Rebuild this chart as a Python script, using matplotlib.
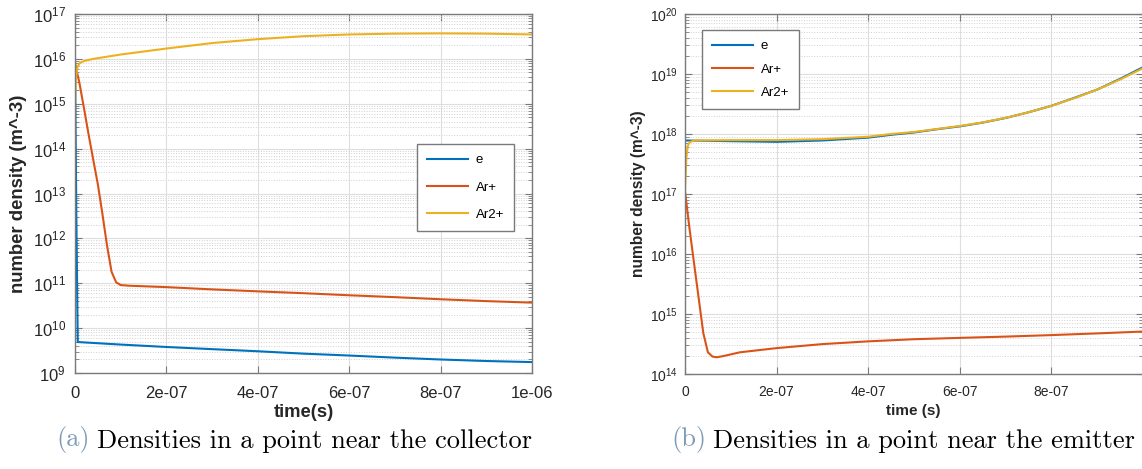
import numpy as np
import matplotlib
matplotlib.use("Agg")
import matplotlib.pyplot as plt
from matplotlib.ticker import LogLocator, NullFormatter, FixedLocator, FixedFormatter

plt.rcParams["font.family"] = ["Liberation Sans", "DejaVu Sans"]
plt.rcParams["mathtext.default"] = "regular"

# (a) point near the collector
t_e_a = [0, 3e-9, 6e-9, 1e-7, 2e-7, 3e-7, 4e-7, 5e-7, 6e-7, 7e-7, 8e-7, 9e-7, 1e-6]
n_e_a = [8.5e15, 3e12, 4.9e9, 4.3e9, 3.8e9, 3.4e9, 3.05e9, 2.7e9, 2.45e9, 2.2e9, 2.0e9, 1.85e9, 1.75e9]

t_ar_a = [0, 1e-8, 2e-8, 3e-8, 4e-8, 5e-8, 6e-8, 7e-8, 8e-8, 9e-8, 1e-7, 1.2e-7,
          2e-7, 3e-7, 4e-7, 5e-7, 6e-7, 7e-7, 8e-7, 9e-7, 1e-6]
n_ar_a = [8e15, 2.8e15, 7.6e14, 2e14, 5.6e13, 1.6e13, 3.5e12, 7e11, 1.8e11, 1.05e11, 9.1e10, 8.8e10,
          8.2e10, 7.3e10, 6.6e10, 6.0e10, 5.4e10, 4.9e10, 4.4e10, 4.0e10, 3.7e10]

t_ar2_a = [0, 2e-9, 5e-9, 1e-8, 2e-8, 4e-8, 1e-7, 2e-7, 3e-7, 4e-7, 5e-7, 6e-7, 7e-7, 8e-7, 9e-7, 1e-6]
n_ar2_a = [1.1e15, 3.5e15, 6.5e15, 8e15, 9e15, 1.0e16, 1.25e16, 1.7e16, 2.25e16, 2.75e16,
           3.2e16, 3.5e16, 3.65e16, 3.7e16, 3.65e16, 3.5e16]

# (b) point near the emitter
t_e_b = [0, 1e-7, 2e-7, 3e-7, 4e-7, 4.5e-7, 5e-7, 5.5e-7, 6e-7, 6.5e-7, 7e-7, 7.5e-7,
         8e-7, 8.5e-7, 9e-7, 9.5e-7, 1e-6]
n_e_b = [7.8e17, 7.6e17, 7.4e17, 7.8e17, 8.7e17, 9.7e17, 1.06e18, 1.2e18, 1.34e18, 1.55e18,
         1.85e18, 2.3e18, 2.95e18, 4.0e18, 5.5e18, 8.3e18, 1.3e19]

t_ar_b = [0, 1e-8, 2e-8, 3e-8, 4e-8, 5e-8, 6e-8, 7e-8, 8.5e-8, 1.2e-7, 2e-7, 3e-7,
          4e-7, 5e-7, 6e-7, 7e-7, 8e-7, 9e-7, 1e-6]
n_ar_b = [1.1e17, 2.6e16, 6.8e15, 1.8e15, 4.8e14, 2.3e14, 1.95e14, 1.9e14, 2.0e14, 2.3e14, 2.7e14, 3.15e14,
          3.5e14, 3.8e14, 4.0e14, 4.2e14, 4.45e14, 4.75e14, 5.1e14]

t_ar2_b = [0, 3e-9, 6e-9, 1e-8, 2e-8, 1e-7, 2e-7, 3e-7, 4e-7, 4.5e-7, 5e-7, 5.5e-7, 6e-7, 6.5e-7,
           7e-7, 7.5e-7, 8e-7, 8.5e-7, 9e-7, 9.5e-7, 1e-6]
n_ar2_b = [1.2e17, 4e17, 6.3e17, 7.3e17, 7.8e17, 7.9e17, 7.9e17, 8.2e17, 9.0e17, 1.0e18, 1.08e18, 1.21e18,
           1.36e18, 1.56e18, 1.86e18, 2.3e18, 2.95e18, 3.95e18, 5.5e18, 8.1e18, 1.25e19]

series_names = ["e", "Ar+", "Ar2+"]
colors = ["#0072BD", "#D95319", "#EDB120"]

xtick_vals = [0, 2e-7, 4e-7, 6e-7, 8e-7, 1e-6]
xtick_labels_a = ["0", "2e-07", "4e-07", "6e-07", "8e-07", "1e-06"]
xtick_labels_b = ["0", "2e-07", "4e-07", "6e-07", "8e-07", ""]

captions = [("(a)", "Densities in a point near the collector"),
            ("(b)", "Densities in a point near the emitter")]


def style_axes(ax, ylim, xlabels, fs, xpad, ypad):
    ax.set_yscale("log")
    ax.set_xlim(0, 1e-6)
    ax.set_ylim(*ylim)
    ax.xaxis.set_major_locator(FixedLocator(xtick_vals))
    ax.xaxis.set_major_formatter(FixedFormatter(xlabels))
    ax.yaxis.set_major_locator(LogLocator(base=10, numticks=20))
    ax.yaxis.set_minor_locator(LogLocator(base=10, subs=np.arange(2, 10), numticks=100))
    ax.yaxis.set_minor_formatter(NullFormatter())
    ax.grid(True, which="major", color="#dedede", linewidth=0.8)
    ax.grid(True, which="minor", axis="y", color="#d0d0d0", linestyle=":", linewidth=0.7)
    ax.set_axisbelow(True)
    for s in ax.spines.values():
        s.set_color("#7a7a7a")
        s.set_linewidth(1.0)
    ax.tick_params(which="both", direction="in", top=True, right=True, colors="#7a7a7a",
                   labelcolor="#262626", labelsize=fs)
    ax.tick_params(which="major", length=5)
    ax.tick_params(which="minor", length=3)
    ax.tick_params(axis="x", pad=xpad)
    ax.tick_params(axis="y", pad=ypad)


fig = plt.figure(figsize=(11.42, 4.69), dpi=100)
ax1 = fig.add_axes([75 / 1142, (469 - 373) / 469, 457 / 1142, 359 / 469])
ax2 = fig.add_axes([685 / 1142, (469 - 374) / 469, 458 / 1142, 360 / 469])

for t, n, c, lab in zip([t_e_a, t_ar_a, t_ar2_a], [n_e_a, n_ar_a, n_ar2_a], colors, series_names):
    ax1.plot(t, n, color=c, linewidth=1.5, label=lab)
for t, n, c, lab in zip([t_e_b, t_ar_b, t_ar2_b], [n_e_b, n_ar_b, n_ar2_b], colors, series_names):
    ax2.plot(t, n, color=c, linewidth=1.5, label=lab)

style_axes(ax1, (1e9, 1e17), xtick_labels_a, 12, 9.5, 6.5)
style_axes(ax2, (1e14, 1e20), xtick_labels_b, 10, 8.0, 5.0)

ax1.set_xlabel("time(s)", fontsize=13.3, fontweight="bold", color="#262626")
ax1.set_ylabel("number density (m^-3)", fontsize=13.3, fontweight="bold", color="#262626", va="center")
ax1.xaxis.set_label_coords(0.5, -0.086)
ax1.yaxis.set_label_coords((19 - 75) / 457, 0.5)

ax2.set_xlabel("time (s)", fontsize=11, fontweight="bold", color="#262626")
ax2.set_ylabel("number density (m^-3)", fontsize=11.2, fontweight="bold", color="#262626", va="center")
ax2.xaxis.set_label_coords((913 - 685) / 458, -0.083)
ax2.yaxis.set_label_coords((638 - 685) / 458, 0.5)

leg_kw = dict(loc="upper left", borderaxespad=0, fancybox=False, framealpha=1,
              edgecolor="#7a7a7a", fontsize=9.5, handlelength=3.1, handletextpad=0.6,
              borderpad=0.75)
l1 = ax1.legend(bbox_to_anchor=((417 - 75) / 457, (373 - 144) / 359), labelspacing=1.15, **leg_kw)
l2 = ax2.legend(bbox_to_anchor=((702 - 685) / 458, (374 - 30) / 360), labelspacing=0.85, **leg_kw)
for l in (l1, l2):
    l.get_frame().set_linewidth(1.0)

# sub-captions: coloured tag, then black text right after it
cap_color = "#7f9bb8"
cap_fs = 19
base_y = (469 - 446) / 469
for x0, (tag, rest) in zip([56, 671], captions):
    ta = fig.text(x0 / 1142, base_y, tag, family="cmr10", fontsize=cap_fs,
                  color=cap_color, va="baseline")
    fig.add_artist(matplotlib.text.Annotation(rest, xy=(1, 0), xycoords=ta, xytext=(5, 0),
                                              textcoords="offset points", va="bottom",
                                              family="cmr10", fontsize=cap_fs, color="black"))

fig.savefig("out.png", dpi=100)
